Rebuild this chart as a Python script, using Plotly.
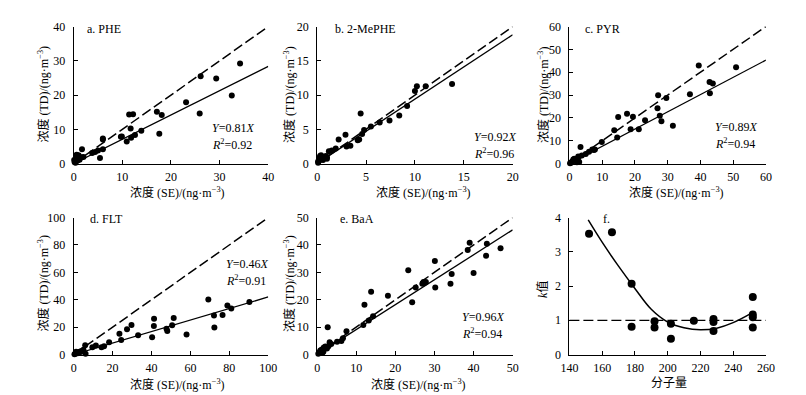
import plotly.graph_objects as go

W, H = 806, 395

# ---------------- data ----------------
a_se = [26.1, 29.3, 34.2, 32.5, 23.1, 25.9, 17.1, 18.1, 17.6, 11.4, 12.2, 11.7, 11.8, 12.6, 10.9, 13.9, 9.7, 9.9, 6.0, 6.0,
        6.0, 5.4, 4.4, 5.0, 3.8, 1.7, 2.0, 1.0, 0.7, 0.3, 0.2, 0.5, 1.0, 1.3, 1.6, 0.4, 0.8, 1.2, 0.1, 0.6]
a_td = [25.5, 24.8, 29.2, 19.9, 17.9, 14.6, 15.1, 14.2, 8.7, 14.3, 14.4, 10.2, 7.5, 8.3, 6.4, 9.6, 7.8, 7.9, 7.0, 7.3,
        4.2, 1.6, 3.4, 3.8, 3.1, 4.2, 1.9, 2.4, 2.1, 0.8, 0.4, 1.3, 1.5, 1.6, 1.8, 0.2, 0.9, 1.1, 1.0, 2.6]

b_se = [13.8, 11.1, 10.2, 10.0, 9.2, 8.4, 7.4, 6.4, 5.5, 4.8, 4.6, 4.45, 4.15, 4.3, 3.4, 3.0, 2.9, 2.2, 1.9, 1.5,
        1.2, 1.0, 0.9, 0.7, 0.5, 0.4, 0.3, 0.2, 0.2, 0.1, 0.1, 0.3, 0.6, 0.8, 1.0]
b_td = [11.6, 11.3, 11.3, 10.6, 8.4, 7.0, 6.3, 6.0, 5.4, 4.9, 4.3, 7.3, 3.4, 3.5, 2.6, 2.5, 4.2, 3.5, 2.2, 1.9,
        1.8, 0.7, 1.1, 0.9, 1.0, 1.2, 1.1, 0.8, 0.4, 0.3, 0.1, 0.6, 0.5, 1.0, 0.9]

c_se = [50.9, 39.5, 42.8, 43.8, 42.9, 36.8, 27.1, 29.6, 26.9, 27.6, 28.1, 31.6, 23.1, 21.2, 18.7, 17.6, 19.4, 14.9, 13.7, 14.6,
        9.9, 3.4, 7.5, 7.0, 7.8, 6.0, 5.0, 3.8, 2.8, 2.5, 2.0, 1.0, 0.7, 0.5, 1.5, 3.0, 2.3, 0.2, 1.2, 2.7]
c_td = [42.2, 42.9, 35.7, 35.1, 30.8, 30.4, 29.9, 28.7, 24.2, 20.9, 18.5, 16.6, 19.0, 15.0, 15.0, 21.8, 20.5, 20.4, 14.6, 11.4,
        9.4, 7.2, 5.9, 6.2, 6.2, 5.2, 4.2, 3.5, 2.8, 2.0, 1.5, 1.0, 0.7, 0.3, 2.1, 0.7, 0.6, 0.1, 1.8, 3.1]

d_se = [69.2, 90.3, 79.0, 81.0, 76.5, 72.1, 72.3, 58.0, 51.4, 50.6, 48.1, 47.7, 41.3, 41.2, 40.3, 33.1, 29.7, 27.4, 23.5, 24.4,
        18.2, 15.6, 14.3, 11.4, 9.6, 5.9, 6.1, 5.0, 4.0, 3.0, 2.5, 1.5, 0.8, 0.4, 2.0, 3.5, 1.2]
d_td = [40.2, 38.4, 35.8, 33.6, 28.9, 28.5, 19.8, 14.6, 26.6, 21.4, 17.2, 18.8, 26.1, 20.9, 12.7, 14.1, 21.6, 18.4, 15.1, 10.6,
        8.9, 6.1, 5.4, 6.6, 5.4, 6.8, 0.5, 3.5, 2.5, 2.0, 1.5, 1.2, 0.6, 0.2, 0.9, 1.8, 2.1]

e_se = [46.9, 43.4, 43.2, 39.0, 38.5, 40.0, 34.4, 34.1, 30.1, 30.2, 27.2, 27.8, 26.9, 27.5, 25.2, 24.3, 23.3, 18.1, 13.8, 12.1,
        11.8, 13.2, 14.3, 7.5, 2.7, 6.6, 6.2, 5.1, 3.2, 3.6, 2.1, 1.7, 1.2, 0.8, 0.6, 1.6, 2.5, 2.9, 1.3, 0.3]
e_td = [38.8, 40.4, 36.1, 40.8, 38.2, 29.8, 29.4, 25.8, 34.1, 24.5, 26.5, 26.5, 25.8, 26.2, 24.5, 19.1, 30.8, 21.5, 22.9, 18.2,
        10.8, 12.4, 14.0, 8.5, 10.0, 5.9, 4.9, 4.7, 4.5, 3.8, 2.9, 2.6, 1.8, 1.5, 0.8, 1.0, 2.2, 3.0, 0.6, 0.3]

f_mw = [152, 166, 178, 178, 192, 192, 202, 202, 216, 228, 228, 228, 252, 252, 252, 252]
f_k = [3.53, 3.57, 2.07, 0.81, 0.97, 0.79, 0.90, 0.46, 0.99, 1.04, 0.95, 0.69, 1.68, 1.17, 1.09, 0.79]
f_curve_x = [151.5, 160, 170, 180, 190, 200, 210, 220, 230, 240, 251]
f_curve_y = [3.93, 3.28, 2.58, 1.93, 1.32, 0.95, 0.78, 0.72, 0.77, 0.93, 1.20]

panel_labels = ["a. PHE", "b. 2-MePHE", "c. PYR", "d. FLT", "e. BaA", "f."]
axis_max = [40, 20, 60, 100, 50]
tick_step = [10, 5, 10, 20, 10]
fit_slope_drawn = [0.71, 0.94, 0.755, 0.42, 0.91]
eq_slope_text = ["0.81", "0.92", "0.89", "0.46", "0.96"]
eq_r2_text = ["0.92", "0.96", "0.94", "0.91", "0.94"]

# ---------------- layout geometry (pixels) ----------------
boxes = [  # x0, x1, ytop, ybottom
    (58, 257, 12, 154),
    (307, 507, 12, 154),
    (565, 766, 12, 154),
    (58, 257, 210, 352),
    (307, 507, 210, 352),
    (565, 766, 210, 352),
]
label_pos = [(70, 15), (323, 15), (579, 14), (73, 212), (328, 212), (597, 211)]
eq_pos = [(197, 117), (465, 127), (712, 116), (212, 258), (453, 313)]
xtitle_pos = [(164, 184), (416, 184), (675, 184), (164, 383), (411, 383), (667, 382)]
ytitle_pos = [(27, 82), (278, 82), (538, 82), (27, 278), (278, 278), (538, 284)]

FONT = "Liberation Serif, Times New Roman, Noto Sans CJK SC, serif"
px = lambda x: x / W
py = lambda y: 1 - y / H

fig = go.Figure()
xs = [a_se, b_se, c_se, d_se, e_se]
ys = [a_td, b_td, c_td, d_td, e_td]
DASH = "10px,4px"

for i in range(5):
    ax = "" if i == 0 else str(i + 1)
    m = axis_max[i]
    fig.add_trace(go.Scatter(x=[0, m], y=[0, m], mode="lines", xaxis="x" + ax, yaxis="y" + ax,
                             line=dict(color="black", width=1.5, dash=DASH), showlegend=False))
    fig.add_trace(go.Scatter(x=[0, m], y=[0, fit_slope_drawn[i] * m], mode="lines", xaxis="x" + ax, yaxis="y" + ax,
                             line=dict(color="black", width=1.3), showlegend=False))
    fig.add_trace(go.Scatter(x=xs[i], y=ys[i], mode="markers", xaxis="x" + ax, yaxis="y" + ax, cliponaxis=False,
                             marker=dict(color="black", size=6), showlegend=False))

# panel f
fig.add_trace(go.Scatter(x=[140, 260], y=[1, 1], mode="lines", xaxis="x6", yaxis="y6",
                         line=dict(color="black", width=1.3, dash=DASH), showlegend=False))
fig.add_trace(go.Scatter(x=f_curve_x, y=f_curve_y, mode="lines", xaxis="x6", yaxis="y6",
                         line=dict(color="black", width=1.5, shape="spline", smoothing=1.0), showlegend=False))
fig.add_trace(go.Scatter(x=f_mw, y=f_k, mode="markers", xaxis="x6", yaxis="y6", cliponaxis=False,
                         marker=dict(color="black", size=8), showlegend=False))

axis_common = dict(showline=True, linecolor="black", linewidth=1, ticks="inside", ticklen=4,
                   tickcolor="black", showgrid=False, zeroline=False,
                   tickfont=dict(family=FONT, size=12, color="black"))

layout = dict(width=W, height=H, margin=dict(l=0, r=0, t=0, b=0),
              plot_bgcolor="white", paper_bgcolor="white", showlegend=False)

for i in range(6):
    x0, x1, yt, yb = boxes[i]
    suf = "" if i == 0 else str(i + 1)
    if i < 5:
        xr = [0, axis_max[i]]; yr = [0, axis_max[i]]; dx = tick_step[i]; dy = tick_step[i]
    else:
        xr = [140, 260]; yr = [0, 4]; dx = 20; dy = 1
    layout["xaxis" + suf] = dict(axis_common, domain=[px(x0), px(x1)], range=xr, dtick=dx, tick0=xr[0],
                                 anchor="y" + suf, ticklabelstandoff=2)
    layout["yaxis" + suf] = dict(axis_common, domain=[py(yb), py(yt)], range=yr, dtick=dy, tick0=yr[0],
                                 anchor="x" + suf, ticklabelstandoff=5)

fig.update_layout(**layout)

ann = []
tf = dict(family=FONT, size=12, color="black")
for i in range(6):
    lx, ly = label_pos[i]
    ann.append(dict(x=px(lx), y=py(ly), xref="paper", yref="paper", text=panel_labels[i],
                    showarrow=False, xanchor="left", yanchor="middle", font=tf))
    tx, ty = xtitle_pos[i]
    xt = "浓度 (SE)/(ng·m<sup>−3</sup>)" if i < 5 else "分子量"
    ann.append(dict(x=px(tx), y=py(ty), xref="paper", yref="paper", text=xt,
                    showarrow=False, xanchor="center", yanchor="middle", font=tf))
    yx, yy = ytitle_pos[i]
    yt_ = "浓度 (TD)/(ng·m<sup>−3</sup>)" if i < 5 else "<i>k</i>值"
    ann.append(dict(x=px(yx), y=py(yy), xref="paper", yref="paper", text=yt_, textangle=-90,
                    showarrow=False, xanchor="center", yanchor="middle", font=tf))
for i in range(5):
    ex, ey = eq_pos[i]
    ann.append(dict(x=px(ex), y=py(ey), xref="paper", yref="paper",
                    text="<i>Y</i>=" + eq_slope_text[i] + "<i>X</i>",
                    showarrow=False, xanchor="left", yanchor="middle", font=tf))
    ann.append(dict(x=px(ex), y=py(ey + 17), xref="paper", yref="paper",
                    text="<i>R</i><sup>2</sup>=" + eq_r2_text[i],
                    showarrow=False, xanchor="left", yanchor="middle", font=tf))
fig.update_layout(annotations=ann)

fig.write_html("out.html")
